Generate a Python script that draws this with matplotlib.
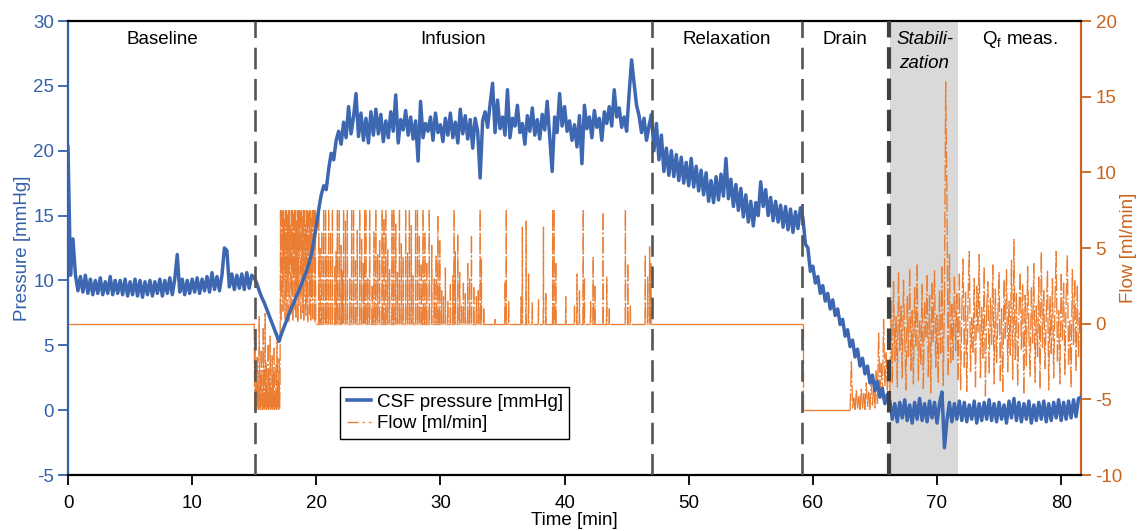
import numpy as np
import matplotlib
matplotlib.use('Agg')
import matplotlib.pyplot as plt
from matplotlib.lines import Line2D
from matplotlib.collections import LineCollection

plt.rcParams['font.family'] = ['Liberation Sans', 'DejaVu Sans']
plt.rcParams['axes.unicode_minus'] = False
plt.rcParams['lines.scale_dashes'] = False

FS = 13.5

# ---------------- data: CSF pressure [mmHg], sampled every 0.2 min ----------------
p_step = 0.2
p_baseline = [20.3, 10.4, 13.2, 10.4, 9.2, 10.3, 9.1, 10.4, 9.0, 10.1,
              8.9, 10.0, 9.0, 10.2, 8.9, 9.9, 9.0, 10.3, 8.9, 10.0,
              9.0, 10.0, 8.9, 10.1, 8.8, 9.9, 8.9, 10.1, 8.8, 10.0,
              8.7, 9.9, 8.9, 10.0, 8.8, 9.9, 9.0, 10.1, 8.8, 10.0,
              9.0, 10.2, 8.9, 10.1, 12.0, 9.1, 10.1, 8.9, 10.0, 9.0,
              10.1, 9.1, 10.2, 9.0, 10.1, 9.2, 10.3, 9.1, 10.6, 9.3,
              10.3, 9.2, 10.4, 12.5, 12.3, 9.5, 10.5, 9.3, 10.4, 9.4,
              10.5, 9.3, 10.6, 9.4, 10.4]
p_infusion = [10.2, 9.8, 9.2, 8.7, 8.3, 7.8, 7.3, 6.8, 6.3, 5.8,
              5.3, 5.9, 6.4, 6.9, 7.4, 7.9, 8.3, 8.8, 9.2, 9.7,
              10.2, 10.7, 11.3, 12.0, 13.0, 14.2, 15.5, 16.6, 17.3, 17.0,
              18.6, 19.8, 19.3, 20.8, 21.5, 20.5, 22.2, 21.0, 23.4, 21.3,
              22.6, 24.4, 21.1, 22.9, 20.8, 22.5, 20.6, 23.0, 21.2, 23.2,
              21.3, 22.8, 20.7, 22.3, 21.0, 23.0, 21.5, 24.3, 20.6, 22.4,
              21.6, 23.1, 21.2, 22.6, 20.9, 22.3, 19.2, 23.8, 21.0, 22.1,
              21.5, 22.6, 20.8, 22.9, 21.4, 22.0, 20.7, 22.5, 21.2, 22.9,
              21.0, 22.2, 20.6, 23.2, 21.3, 22.7, 20.9, 22.4, 20.2, 22.5,
              21.5, 17.9, 22.3, 23.0, 21.8, 23.6, 25.2, 21.4, 23.9, 21.7,
              22.6, 21.2, 24.7, 21.0, 22.5, 21.9, 23.5, 21.4, 22.1, 20.5,
              22.7, 21.5, 23.3, 21.2, 22.4, 20.9, 22.8, 21.6, 23.8, 21.1,
              18.4, 22.6, 21.4, 24.4, 21.9, 23.4, 21.5, 22.3, 20.8, 22.0,
              20.3, 22.7, 19.0, 23.5, 21.7, 22.6, 21.0, 23.1, 21.8, 22.5,
              20.8, 23.0, 22.1, 23.4, 21.9, 24.7, 22.6, 23.3, 21.8, 22.6,
              21.5, 24.4, 27.0, 25.2, 23.5, 22.7, 21.4, 22.5, 20.8, 21.9]
p_relaxation = [22.8, 20.0, 22.1, 19.3, 21.2, 18.4, 20.2, 18.1, 20.0, 18.0,
                19.7, 17.7, 19.5, 17.5, 19.1, 17.3, 19.4, 17.2, 18.8, 16.9,
                18.5, 16.6, 18.3, 16.1, 17.7, 16.0, 18.0, 16.2, 18.2, 16.5,
                19.4, 16.3, 17.8, 15.7, 17.4, 15.4, 17.1, 14.9, 16.6, 14.5,
                16.1, 14.2, 16.0, 15.0, 17.6, 15.7, 17.0, 15.0, 16.4, 14.6,
                16.1, 14.5, 15.8, 14.1, 15.7, 13.9, 15.5, 13.7, 15.3, 14.0,
                15.6]
p_drain = [14.8, 12.8, 12.5, 10.7, 11.1, 9.8, 10.3, 9.0, 9.6, 8.4,
           9.0, 7.8, 8.5, 7.3, 7.8, 6.6, 7.0, 5.7, 6.2, 4.9,
           5.4, 4.1, 4.7, 3.4, 4.0, 2.8, 3.4, 2.1, 2.7, 1.5,
           2.2, 1.0, 1.7, 0.5, 1.2]
p_qf = [0.7, -0.7, 0.5, -0.9, 0.6, -0.6, 0.8, -0.8, 0.4, -1.0,
        0.6, -0.7, 0.9, -0.8, 0.5, -0.9, 0.7, -0.6, 0.6, -1.0,
        0.5, 1.4, -2.9, -0.8, 0.6, -0.9, 0.5, -0.7, 0.7, -0.8,
        0.6, -0.9, 0.4, -0.7, 0.7, -1.0, 0.5, -0.8, 0.6, -0.7,
        0.8, -0.8, 0.5, -0.9, 0.6, -0.7, 0.4, -1.0, 0.7, -0.6,
        0.9, -0.8, 0.6, -0.9, 0.5, -0.7, 0.7, -1.0, 0.4, -0.8,
        0.6, -0.7, 0.7, -0.9, 0.5, -0.8, 0.6, -0.6, 0.8, -0.8,
        0.6, -0.7, 0.7, -0.6, 0.8, -0.5, 0.9, 1.0]
p_segments = [(0.0, p_baseline), (15.0, p_infusion), (47.0, p_relaxation),
              (59.2, p_drain), (66.2, p_qf)]

# ---------------- data: flow [ml/min] ----------------
flow_startup = [-5.7, -1.0, -5.6, -3.9, -5.7, -2.2, -5.5, -4.1, -5.7, 0.5,
                -5.6, -3.4, -5.7, -1.8, -5.4, -4.3, -5.7, -0.3, -5.6, -3.0,
                -5.7, 0.7, -5.5, -2.6, -5.7, -4.0, -5.6, -1.4, -5.7, -3.7,
                -5.5, -0.8, -5.7, -4.2, -5.6, -2.1, -5.7, -3.3, -5.5, -1.6,
                -5.7, -4.4, -5.6, -2.7, -5.7, -0.6, -5.5, -3.8, -5.7, -2.3,
                -5.6, -4.0]                       # from 15.04 min, every 0.04 min
flow_dense = [7.5, 0.2, 7.5, 2.1, 7.4, 0.8, 7.5, 3.5, 6.9, 0.3,
              7.5, 1.6, 7.5, 0.5, 7.2, 2.8, 7.5, 0.1, 7.5, 4.0,
              6.5, 0.6, 7.5, 1.9, 7.5, 0.2, 7.3, 3.1, 7.5, 0.9,
              7.5, 0.4, 6.8, 2.4, 7.5, 0.1, 7.5, 1.2, 7.5, 5.0,
              7.4, 0.3, 7.5, 2.6, 7.1, 0.7, 7.5, 0.2, 7.5, 3.8,
              6.6, 0.5, 7.5, 1.4, 7.5, 0.1, 7.4, 2.9, 7.5, 0.6,
              7.5, 0.2, 7.0, 1.7, 7.5, 0.3, 7.5, 4.3, 7.5, 0.1,
              7.5, 0.0]                           # from 17.12 min, every 0.04 min
pulse_times = [20.2, 20.3, 20.45, 20.6, 20.75, 20.85, 21.0, 21.15, 21.3, 21.5,
               21.6, 21.7, 21.85, 22.0, 22.1, 22.2, 22.35, 22.5, 22.7, 22.85,
               23.0, 23.15, 23.3, 23.5, 23.65, 23.8, 23.9, 24.0, 24.15, 24.3,
               24.5, 24.65, 24.8, 24.95, 25.1, 25.3, 25.45, 25.6, 25.75, 25.9,
               26.1, 26.25, 26.4, 26.55, 26.7, 26.85, 27.0, 27.2, 27.35, 27.5,
               27.65, 27.8, 28.0, 28.15, 28.3, 28.45, 28.6, 28.75, 28.9, 29.1,
               29.3, 29.5, 29.65, 29.8, 29.95, 30.1, 30.25, 30.4, 30.6, 30.8,
               31.0, 31.1, 31.2, 31.4, 31.55, 31.7, 31.85, 32.0, 32.2, 32.35,
               32.5, 32.7, 32.9, 33.05, 33.2, 33.3, 33.5, 34.4, 35.2, 35.3,
               35.5, 36.5, 36.6, 36.9, 37.1, 37.4, 37.9, 38.3, 38.5, 39.05,
               39.15, 39.3, 40.1, 40.8, 41.0, 41.2, 41.5, 41.6, 42.1, 42.3,
               42.45, 43.1, 43.4, 43.6, 44.9, 45.1, 45.3, 46.5, 46.7, 46.85,
               46.95]
pulse_heights = [7.5, 5.0, 6.0, 7.5, 7.5, 4.5, 7.5, 6.0, 7.5, 3.8,
                 4.8, 7.5, 7.5, 5.2, 3.5, 7.5, 6.8, 7.5, 3.0, 7.5,
                 7.5, 4.2, 6.2, 7.5, 5.6, 4.0, 7.5, 7.5, 3.0, 7.5,
                 2.5, 6.1, 7.5, 4.6, 5.5, 7.5, 6.9, 7.5, 4.9, 3.6,
                 7.5, 7.5, 6.6, 3.4, 7.5, 5.3, 4.4, 7.5, 4.7, 7.5,
                 6.5, 3.2, 7.5, 7.5, 5.8, 3.9, 7.5, 6.0, 4.0, 7.5,
                 5.2, 3.0, 4.5, 7.1, 5.5, 2.2, 1.8, 3.7, 1.5, 2.6,
                 3.2, 7.5, 4.8, 5.9, 3.4, 1.2, 2.7, 2.0, 4.0, 3.0,
                 5.8, 2.4, 1.8, 2.2, 7.5, 4.3, 1.0, 0.3, 2.8, 7.5,
                 1.5, 1.8, 6.4, 6.8, 3.3, 1.4, 1.6, 6.4, 2.0, 7.5,
                 7.5, 4.0, 1.8, 1.2, 3.3, 2.2, 7.5, 3.0, 1.5, 4.4,
                 2.5, 7.3, 3.1, 1.0, 7.5, 3.9, 1.2, 4.5, 3.1, 5.1,
                 4.0]
drain_level = -5.7
flow_drain_noise = [-5.7, -2.5, -5.6, -4.9, -5.7, -4.4, -5.6, -4.8, -5.7, -4.3,
                    -5.6, -4.6, -5.7, -3.9, -5.5, -4.5, -5.7, -3.6, -5.4, -4.2,
                    -5.6, -3.1, -5.3, -0.6, -4.8, -2.6, -5.0, 0.3, -4.1, -1.9,
                    -4.4, -2.8]                   # from 63.0 min, every 0.1 min
flow_qf_noise = [-4.8, 1.5, -3.9, 2.8, -2.5, 0.5, -4.2, 3.4, -1.8, 1.2,
                 -3.6, 2.9, -0.8, -4.4, 1.8, -2.2, 3.6, -3.1, 0.9, -4.0,
                 2.4, -1.5, 3.9, -3.8, 0.2, -2.7, 2.6, -4.3, 1.4, -0.9,
                 3.2, -3.5, 1.9, -4.6, 2.7, -1.2, 3.5, -2.9, 0.6, -3.9,
                 2.2, -2.0, 3.8, -4.1, 1.7, 16.0, 8.5, -3.4, 4.6, -2.6,
                 1.3, -2.4, 3.1, -1.8, 2.0, -3.7, 3.3, -4.4, 0.8, 4.3,
                 -2.9, 2.1, -4.5, 1.6, 4.8, -3.2, 0.4, -1.9, 3.0, -4.2,
                 2.5, -0.6, 4.6, -3.6, 1.1, -2.3, 3.7, -4.8, 0.9, 2.8,
                 -3.3, 1.7, -1.4, 3.9, -4.0, 2.3, -2.6, 0.3, 3.4, -3.8,
                 1.0, -4.5, 2.9, -1.0, 3.6, -3.2, 1.5, -2.1, 4.2, -3.7,
                 5.6, -2.4, 2.0, -4.1, 0.7, 3.3, -1.7, 2.6, -4.6, 1.9,
                 -2.8, 3.8, -0.4, -3.5, 2.4, -1.3, 4.0, -3.9, 1.2, -2.2,
                 3.1, -4.3, 4.7, -1.6, 2.2, -3.0, 0.5, 3.5, -4.4, 1.8,
                 -2.0, 3.0, -3.6, 1.4, 4.8, -2.5, 0.9, -4.0, 3.3, -1.1,
                 2.7, -3.4, 1.6, 4.5, -2.7, 0.2, -4.2, 3.6, -1.4, 2.9,
                 -3.1, 2.5, -2.2, 0.8]           # from 66.2 min, every 0.1 min

phase_names = ['Baseline', 'Infusion', 'Relaxation', 'Drain']
phase_label_x = [7.57, 31.0, 53.1, 62.6]
phase_bounds = [15.05, 47.05, 59.15]
stab_start, stab_end = 66.18, 71.68

# ---------------- build series ----------------
def seg_t(start, vals, step):
    return list(start + step * np.arange(len(vals)))

t_p, v_p = [], []
for s, vals in p_segments:
    t_p += seg_t(s, vals, p_step)
    v_p += vals

t_f, v_f = [0.0, 15.0], [0.0, 0.0]
t_f += seg_t(15.04, flow_startup, 0.04); v_f += flow_startup
t_f += seg_t(17.12, flow_dense, 0.04); v_f += flow_dense
for tp, hp in zip(pulse_times, pulse_heights):
    t_f += [tp - 0.02, tp, tp + 0.02]
    v_f += [0.0, hp, 0.0]
t_f += [47.0, 59.2, 59.2]; v_f += [0.0, 0.0, drain_level]
t_f += seg_t(63.0, flow_drain_noise, 0.1); v_f += flow_drain_noise
t_f += seg_t(66.2, flow_qf_noise, 0.1); v_f += flow_qf_noise

# ---------------- figure ----------------
BLUE = '#3D68B1'
BLUE_AX = '#3560AA'
ORANGE = '#EB7D32'
ORANGE_AX = '#C8641E'
DASHDOT = (0, (12, 1.8, 1.2, 1.8))

fig = plt.figure(figsize=(11.38, 5.31), dpi=100)
ax = fig.add_axes([68 / 1138, 1 - 475 / 531, 1013 / 1138, 454 / 531])
ax2 = ax.twinx()
ax.set_zorder(2)
ax2.set_zorder(1)
ax.patch.set_visible(False)

# flow (right axis): dash-dot pattern restarting on every sample-to-sample segment
ax2.axvspan(stab_start, stab_end, color='#D9D9D9', lw=0, zorder=0)
pts = np.column_stack([t_f, v_f])
segs = np.stack([pts[:-1], pts[1:]], axis=1)
styles = ['solid' if s[0, 1] == s[1, 1] else DASHDOT for s in segs]
lc = LineCollection(segs, colors=ORANGE, linewidths=0.95, linestyles=styles, zorder=2)
ax2.add_collection(lc)
ax2.set_ylim(-10, 20)
ax2.set_yticks(np.arange(-10, 21, 5))

# pressure (left axis)
ax.plot(t_p, v_p, color=BLUE, lw=2.5, zorder=3, solid_joinstyle='round')
ax.set_xlim(0, 81.6)
ax.set_ylim(-5, 30)
ax.set_yticks(np.arange(-5, 31, 5))
ax.set_xticks(np.arange(0, 81, 10))

for xb in phase_bounds:
    ax.axvline(xb, color='#555555', lw=1.9, linestyle=(0, (15.5, 7)), zorder=5)
ax.axvline(66.15, color='#404040', lw=3.0, linestyle=(0, (15.5, 7)), zorder=5)

# phase labels
for name, xl in zip(phase_names, phase_label_x):
    ax.text(xl, 0.9493, name, transform=ax.get_xaxis_transform(), ha='center',
            va='baseline', fontsize=FS, color='black', zorder=6)
ax.text(69.04, 0.9493, 'Stabili-', transform=ax.get_xaxis_transform(), ha='center',
        va='baseline', fontsize=FS, style='italic', zorder=6)
ax.text(68.96, 0.8965, 'zation', transform=ax.get_xaxis_transform(), ha='center',
        va='baseline', fontsize=FS, style='italic', zorder=6)
ax.text(76.7, 0.9493, r'Q$_\mathregular{f}$ meas.', transform=ax.get_xaxis_transform(),
        ha='center', va='baseline', fontsize=FS, zorder=6)

# spines and ticks
for sp in ['left', 'top', 'bottom']:
    ax2.spines[sp].set_visible(False)
ax.spines['right'].set_visible(False)
ax.spines['left'].set_color(BLUE_AX)
ax.spines['left'].set_linewidth(1.6)
ax.spines['bottom'].set_linewidth(1.6)
ax.spines['top'].set_linewidth(1.6)
ax2.spines['right'].set_color(ORANGE_AX)
ax2.spines['right'].set_linewidth(1.6)

ax.tick_params(axis='y', colors=BLUE_AX, labelcolor=BLUE_AX, direction='out',
               length=7, width=1.3, pad=3, labelsize=FS)
ax.tick_params(axis='x', colors='black', direction='out', length=7, width=1.3,
               pad=7.5, labelsize=FS)
ax2.tick_params(axis='y', colors=ORANGE_AX, labelcolor=ORANGE_AX, direction='out',
                length=7, width=1.3, pad=3.5, labelsize=FS)

ax.set_xlabel('Time [min]', fontsize=FS, labelpad=0)
ax.set_ylabel('Pressure [mmHg]', fontsize=FS, color=BLUE_AX)
ax.yaxis.set_label_coords(-0.0365, 0.5)
ax2.set_ylabel('Flow [ml/min]', fontsize=FS, color=ORANGE_AX)
ax2.yaxis.set_label_coords(1.0385, 0.5)

# legend
h1 = Line2D([], [], color=BLUE, lw=2.6)
h2 = Line2D([], [], color=ORANGE, lw=1.0, linestyle=(0, (8, 3, 1.5, 3)))
leg = ax.legend([h1, h2], ['CSF pressure [mmHg]', 'Flow [ml/min]'],
                loc='lower left', bbox_to_anchor=(0.2685, 0.0793),
                borderaxespad=0, fontsize=FS, frameon=True, fancybox=False,
                framealpha=1, edgecolor='black', handlelength=1.3,
                handletextpad=0.3, borderpad=0.35, labelspacing=0.25)
leg.get_frame().set_linewidth(1.0)
leg.set_zorder(10)

fig.savefig('out.png', dpi=100)
